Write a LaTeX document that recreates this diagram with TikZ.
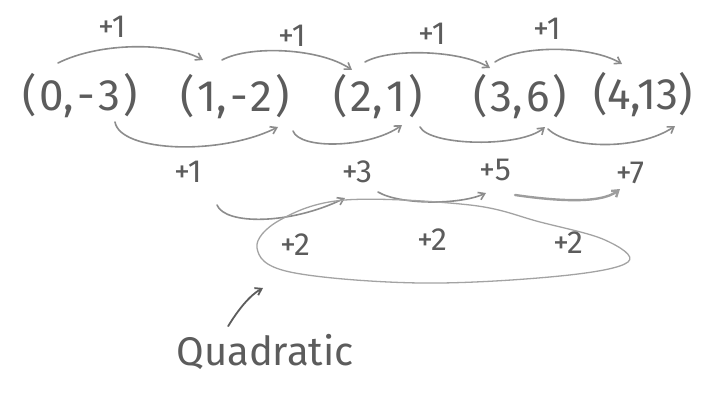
\documentclass[tikz,border=0pt]{standalone}
\usepackage{fontspec}
\setmainfont{Fira Sans}
\usetikzlibrary{arrows.meta}
\definecolor{ink}{HTML}{5C5C5C}
\definecolor{arc}{HTML}{8C8C8C}
\newcommand{\gp}{\hspace{3pt}}
\begin{document}
\begin{tikzpicture}[x=1pt,y=-1pt,
  pair/.style={text=ink,font=\fontsize{44}{46}\selectfont,inner sep=0pt},
  diff/.style={text=ink,font=\fontsize{32}{34}\selectfont,inner sep=0pt},
  arcline/.style={draw=arc,line width=1.6pt,line cap=round,-{Straight Barb[length=6pt,width=8pt]}},
  loopline/.style={draw=arc!80,line width=1.3pt},
  word/.style={text=ink,font=\fontsize{40}{42}\selectfont,inner sep=0pt}]
\useasboundingbox (0,0) rectangle (711,393);
% pairs
\node[pair] (p0) at (80,96) {(\gp0,\gp-\gp3\gp)};
\node[pair] (p1) at (235,97) {(\gp1,\gp-\gp2\gp)};
\node[pair] (p2) at (378,97) {(\gp2,\gp1\gp)};
\node[pair] (p3) at (520,97) {(\gp3,\gp6\gp)};
\node[pair] (p4) at (643,95) {(4,13)};
% top arc end points
\coordinate (t0s) at (58,63);  \coordinate (t0e) at (203,60);
\coordinate (t1s) at (222,60); \coordinate (t1e) at (352,70);
\coordinate (t2s) at (365,62); \coordinate (t2e) at (490,68);
\coordinate (t3s) at (495,62); \coordinate (t3e) at (622,64);
\draw[arcline] (t0s) .. controls (100,42) and (170,42) .. (t0e);
\draw[arcline] (t1s) .. controls (250,45) and (320,48) .. (t1e);
\draw[arcline] (t2s) .. controls (390,48) and (460,50) .. (t2e);
\draw[arcline] (t3s) .. controls (520,45) and (590,45) .. (t3e);
\node[diff] (u0) at (112,27) {+1};
\node[diff] (u1) at (292,36) {+1};
\node[diff] (u2) at (432,34) {+1};
\node[diff] (u3) at (547,29) {+1};
% bottom arcs (first differences)
\coordinate (b0s) at (115,122); \coordinate (b0e) at (278,127);
\coordinate (b1s) at (293,131); \coordinate (b1e) at (402,125);
\coordinate (b2s) at (420,127); \coordinate (b2e) at (545,127);
\coordinate (b3s) at (548,129); \coordinate (b3e) at (675,126);
\draw[arcline] (b0s) .. controls (120,152) and (220,156) .. (b0e);
\draw[arcline] (b1s) .. controls (300,150) and (370,148) .. (b1e);
\draw[arcline] (b2s) .. controls (430,146) and (520,148) .. (b2e);
\draw[arcline] (b3s) .. controls (570,150) and (640,150) .. (b3e);
\node[diff] (d0) at (188,172) {+1};
\node[diff] (d1) at (357,172) {+3};
\node[diff] (d2) at (495,170) {+5};
\node[diff] (d3) at (630,173) {+7};
% second differences
\coordinate (c0s) at (217,205); \coordinate (c0e) at (345,198);
\coordinate (c1s) at (378,192); \coordinate (c1e) at (486,193);
\coordinate (c2s) at (515,195); \coordinate (c2e) at (620,189);
\draw[arcline] (c0s) .. controls (225,225) and (290,225) .. (c0e);
\draw[arcline] (c1s) .. controls (400,205) and (460,205) .. (c1e);
\draw[arcline,line width=2.4pt,draw=arc!85] (c2s) .. controls (550,200) and (600,205) .. (c2e);
\draw[loopline] plot[smooth cycle,tension=0.6] coordinates {(345,200) (280,220) (257,248) (290,272) (420,283) (560,276) (628,262) (605,240) (540,222) (470,205)};
\node[diff] (s0) at (295,245) {+2};
\node[diff] (s1) at (432,240) {+2};
\node[diff] (s2) at (568,243) {+2};
% label
\node[word] (q) at (265,352) {Quadratic};
\coordinate (qa) at (263,288);
\draw[arcline,line width=1.8pt,draw=ink] (q.north west) ++(52,-8) .. controls (238,310) and (250,295) .. (qa);
\end{tikzpicture}
\end{document}
